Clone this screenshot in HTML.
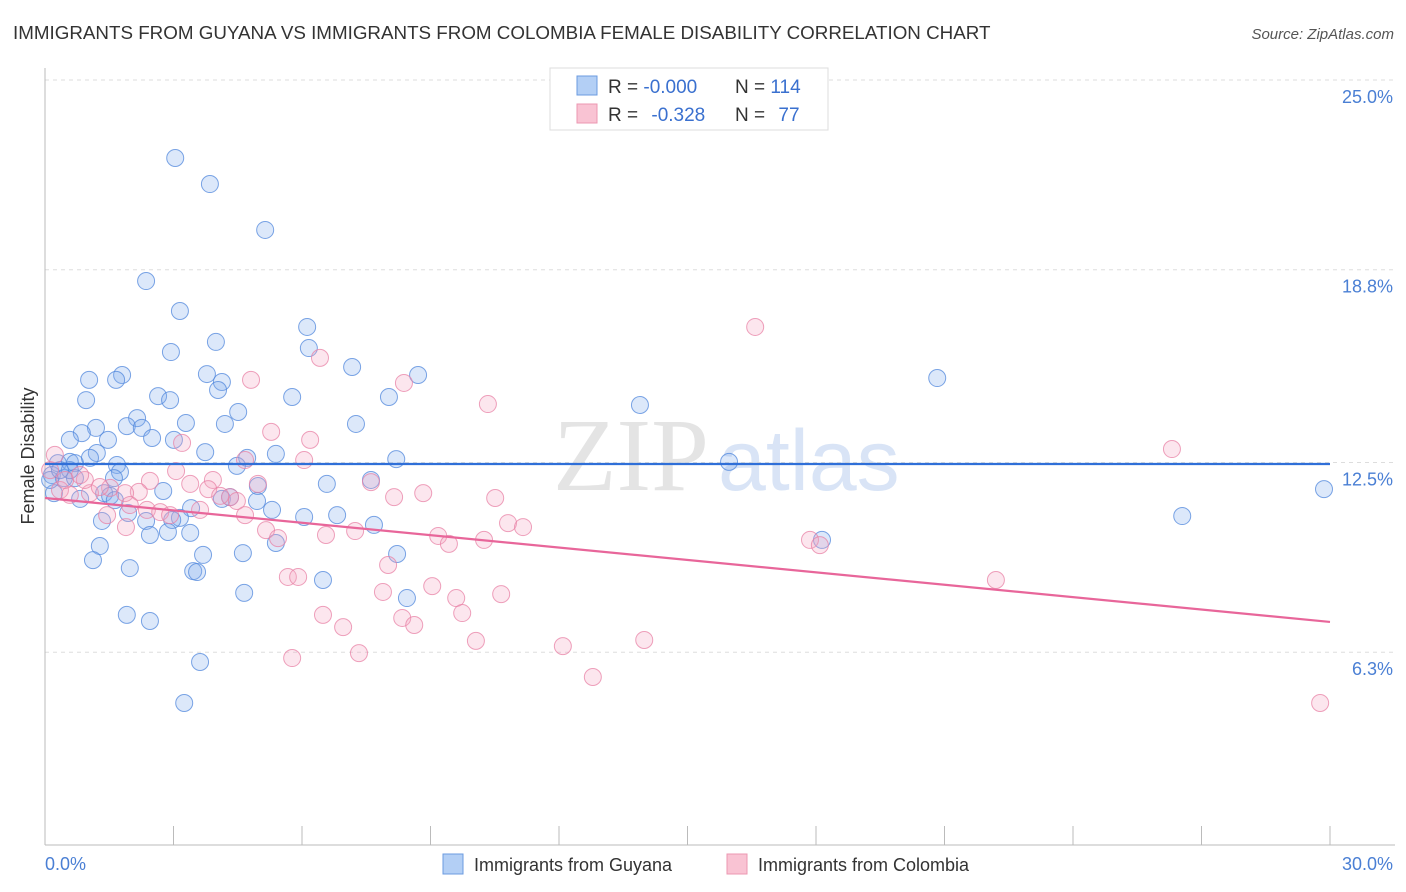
<!DOCTYPE html>
<html><head><meta charset="utf-8"><style>
body{margin:0;background:#fff;font-family:"Liberation Sans",sans-serif}
svg{display:block}
</style></head><body>
<svg id="chart" width="1406" height="892" viewBox="0 0 1406 892" xmlns="http://www.w3.org/2000/svg">
<text x="13" y="39" font-size="18.8" fill="#333" font-family="Liberation Sans, sans-serif">IMMIGRANTS FROM GUYANA VS IMMIGRANTS FROM COLOMBIA FEMALE DISABILITY CORRELATION CHART</text>
<text x="1394" y="39" font-size="15" fill="#555" font-style="italic" text-anchor="end">Source: ZipAtlas.com</text>
<g>
<text x="553" y="490" font-size="104" fill="#dedede" font-family="Liberation Serif, serif" opacity="0.8">ZIP</text>
<text x="718" y="490" font-size="86" fill="#c9daf3" opacity="0.7">atlas</text>
</g>
<g id="grid"></g>
<g id="axes"></g>
<g id="marks"></g>
<g id="trend"></g>
<g>
<rect x="550" y="68" width="278" height="62" fill="#fff" stroke="#ddd"/>
<rect x="577" y="76" width="20" height="19" fill="#b3cff5" stroke="#6b9be0"/>
<rect x="577" y="104" width="20" height="19" fill="#f9c3d3" stroke="#ec97b1"/>
<text x="608" y="93" font-size="19" fill="#333">R = <tspan fill="#3a70cf">-0.000</tspan></text>
<text x="735" y="93" font-size="19" fill="#333">N = <tspan fill="#3a70cf">114</tspan></text>
<text x="608" y="121" font-size="19" fill="#333">R = <tspan fill="#3a70cf" dx="8">-0.328</tspan></text>
<text x="735" y="121" font-size="19" fill="#333">N = <tspan fill="#3a70cf" dx="8">77</tspan></text>
</g>
<g>
<rect x="443" y="854" width="20" height="20" fill="#b3cff5" stroke="#6b9be0"/>
<text x="474" y="871" font-size="18" fill="#333">Immigrants from Guyana</text>
<rect x="727" y="854" width="20" height="20" fill="#f9c3d3" stroke="#ec97b1"/>
<text x="758" y="871" font-size="18" fill="#333">Immigrants from Colombia</text>
</g>
<text transform="translate(34,456) rotate(-90)" font-size="18" fill="#333" text-anchor="middle">Female Disability</text>
</svg>
<script>
const yTicks=[25.0,18.8,12.5,6.3];
const yTickLabels=["25.0%","18.8%","12.5%","6.3%"];
const xTickLabels=["0.0%","30.0%"];
const guyanaX=[3.04,3.85,5.14,2.36,3.15,6.12,6.16,3.99,2.94,7.17,8.71,1.80,1.03,1.66,3.78,4.13,4.04,20.83,2.64,2.92,0.96,5.77,8.03,13.89,4.51,2.15,7.26,1.91,3.29,2.26,1.19,4.20,0.86,0.58,1.47,3.01,2.50,3.74,1.21,4.72,5.39,8.20,15.97,0.30,0.58,0.70,1.05,1.68,1.75,4.48,0.16,0.44,0.70,0.58,6.58,7.61,4.97,1.61,2.76,0.21,0.82,1.38,1.52,1.63,4.13,4.95,5.30,29.86,3.41,4.32,6.05,6.82,7.68,1.33,2.36,3.15,2.97,26.55,1.94,2.45,2.87,3.39,5.39,18.14,1.28,4.62,3.69,8.22,1.12,1.98,3.46,3.55,6.49,4.65,8.45,1.91,2.45,3.62,3.25,0.12,0.35];
const guyanaY=[22.45,21.60,20.10,18.43,17.45,16.93,16.24,16.44,16.11,15.62,15.36,15.36,15.20,15.20,15.39,15.13,14.87,15.26,14.67,14.54,14.54,14.64,14.64,14.38,14.15,13.95,13.76,13.69,13.79,13.63,13.63,13.76,13.46,13.24,13.24,13.24,13.30,12.84,12.81,12.65,12.78,12.61,12.52,12.48,12.52,12.48,12.65,12.42,12.19,12.39,12.09,11.99,11.99,12.25,11.80,11.93,11.73,11.99,11.57,11.50,11.31,11.50,11.41,11.27,11.31,11.24,10.95,11.63,11.01,11.37,10.72,10.78,10.46,10.59,10.59,10.69,10.62,10.75,10.85,10.13,10.23,10.20,9.87,9.97,9.77,9.54,9.48,9.51,9.31,9.05,8.95,8.92,8.66,8.24,8.07,7.52,7.32,5.98,4.64,11.93,12.25];
const colombiaX=[16.58,6.42,4.81,8.38,10.34,26.31,5.28,6.19,3.20,6.05,4.67,3.06,3.92,2.45,2.19,3.39,3.81,4.97,7.61,8.83,10.51,8.15,4.32,4.48,4.09,1.52,1.05,0.35,0.58,0.93,1.28,1.87,2.38,2.69,2.92,1.45,1.89,5.16,5.44,6.56,7.24,10.81,11.16,9.18,9.43,10.25,17.86,18.09,8.01,5.67,5.91,9.04,7.89,9.60,10.65,9.74,6.49,8.34,8.62,6.96,13.99,10.06,12.09,7.33,5.77,12.79,29.77,22.20,0.23,0.12,0.47,0.82,1.98,3.62,4.67];
const colombiaY=[16.93,15.92,15.20,15.10,14.41,12.94,13.50,13.24,13.14,12.58,12.58,12.22,11.93,11.90,11.54,11.80,11.63,11.80,11.86,11.50,11.34,11.37,11.37,11.24,11.41,11.67,11.50,11.60,11.44,11.93,11.70,11.50,10.95,10.88,10.78,10.78,10.39,10.29,10.03,10.13,10.26,10.52,10.39,10.10,9.84,9.97,9.97,9.80,9.15,8.76,8.76,8.46,8.27,8.07,8.20,7.58,7.52,7.42,7.19,7.12,6.70,6.67,6.50,6.27,6.11,5.49,4.64,8.66,12.75,12.25,11.93,12.09,11.11,10.95,10.78];
const guyanaTrend=[12.45,12.45];
const colombiaTrend=[11.34,7.29];

const NS="http://www.w3.org/2000/svg";
const X0=45,X1=1330,Y0=845,YT=80;
const xs=v=>X0+(v/30)*(X1-X0);
const ys=v=>Y0-(v/25)*(Y0-YT);
function mk(tag,attrs,parent){const e=document.createElementNS(NS,tag);for(const k in attrs)e.setAttribute(k,attrs[k]);parent.appendChild(e);return e;}
const grid=document.getElementById('grid'),axes=document.getElementById('axes'),marks=document.getElementById('marks'),trend=document.getElementById('trend');
yTicks.forEach((t,i)=>{
  const l=mk('line',{x1:X0,x2:1395,y1:ys(t),y2:ys(t),stroke:'#ddd','stroke-dasharray':'4,4'},grid);
  
  
  const tx=mk('text',{x:1393,y:ys(t)+23,'font-size':18,fill:'#4a7fd4','text-anchor':'end'},axes);
  tx.textContent=yTickLabels[i];
  
  
});
const yAx=mk('line',{x1:X0,x2:X0,y1:68,y2:Y0,stroke:'#bbb'},axes);


const xAx=mk('line',{x1:X0,x2:1395,y1:Y0,y2:Y0,stroke:'#bbb'},axes);


for(let i=0;i<=10;i++){
  const tk=mk('line',{x1:xs(i*3),x2:xs(i*3),y1:826,y2:Y0,stroke:'#bbb'},axes);
  
  
}
const xl0=mk('text',{x:45,y:870,'font-size':18,fill:'#4a7fd4'},axes);
xl0.textContent=xTickLabels[0];


const xl1=mk('text',{x:1393,y:870,'font-size':18,fill:'#4a7fd4','text-anchor':'end'},axes);
xl1.textContent=xTickLabels[1];


guyanaX.forEach((v,i)=>{
  const c=mk('circle',{cx:xs(v),cy:ys(guyanaY[i]),r:8.5,fill:'rgba(130,172,238,0.28)',stroke:'rgba(80,135,220,0.75)','stroke-width':1},marks);
  
  
});
colombiaX.forEach((v,i)=>{
  const c=mk('circle',{cx:xs(v),cy:ys(colombiaY[i]),r:8.5,fill:'rgba(245,165,195,0.28)',stroke:'rgba(232,130,165,0.75)','stroke-width':1},marks);
  
  
});
const tg=mk('line',{x1:xs(0),x2:xs(30),y1:ys(guyanaTrend[0]),y2:ys(guyanaTrend[1]),stroke:'#2f6fd8','stroke-width':2.2},trend);


const tc=mk('line',{x1:xs(0),x2:xs(30),y1:ys(colombiaTrend[0]),y2:ys(colombiaTrend[1]),stroke:'#e8669a','stroke-width':2.2},trend);


</script>
</body></html>
